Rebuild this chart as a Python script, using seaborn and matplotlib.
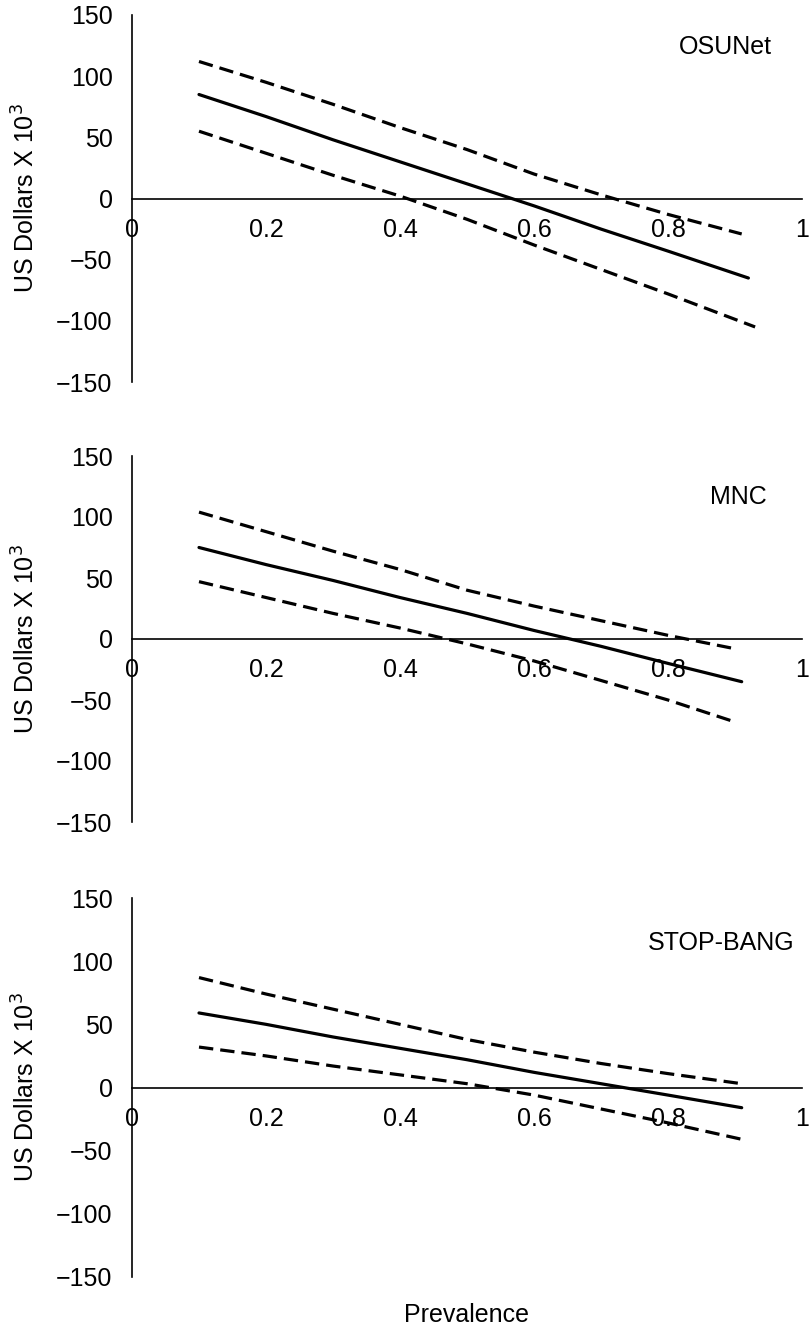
import matplotlib
matplotlib.use("Agg")
import matplotlib.pyplot as plt
import seaborn as sns
import pandas as pd

# ---------------- data ----------------
panel_names = ["OSUNet", "MNC", "STOP-BANG"]

prev_x = [0.1, 0.2, 0.3, 0.4, 0.5, 0.6, 0.7, 0.8]

osu_mid_x = prev_x + [0.92]
osu_mid = [85, 67, 48, 30, 12, -6, -25, -43, -65]
osu_hi_x = prev_x + [0.91]
osu_hi = [112, 95, 77, 58, 40, 20, 3, -13, -29]
osu_lo_x = prev_x + [0.93]
osu_lo = [55, 37, 19, 2, -17, -38, -58, -78, -105]

mnc_mid_x = prev_x + [0.91]
mnc_mid = [75, 61, 48, 34, 21, 7, -6, -20, -35]
mnc_hi_x = prev_x + [0.9]
mnc_hi = [104, 88, 72, 57, 40, 27, 15, 3, -8]
mnc_lo_x = prev_x + [0.9]
mnc_lo = [47, 34, 21, 9, -4, -18, -34, -50, -68]

sb_mid_x = prev_x + [0.91]
sb_mid = [59, 50, 40, 31, 22, 12, 3, -6, -16]
sb_hi_x = prev_x + [0.91]
sb_hi = [87, 74, 62, 50, 38, 28, 19, 11, 3]
sb_lo_x = prev_x + [0.91]
sb_lo = [32, 25, 17, 10, 3, -6, -17, -28, -41]

x_ticks = [0, 0.2, 0.4, 0.6, 0.8, 1]
x_tick_labels = ["0", "0.2", "0.4", "0.6", "0.8", "1"]
y_ticks = [-150, -100, -50, 0, 50, 100, 150]
y_tick_labels = ["\u2212150", "\u2212100", "\u221250", "0", "50", "100", "150"]

panels = [
    ("OSUNet", (osu_mid_x, osu_mid), (osu_hi_x, osu_hi), (osu_lo_x, osu_lo), (0.885, 124)),
    ("MNC", (mnc_mid_x, mnc_mid), (mnc_hi_x, mnc_hi), (mnc_lo_x, mnc_lo), (0.905, 116)),
    ("STOP-BANG", (sb_mid_x, sb_mid), (sb_hi_x, sb_hi), (sb_lo_x, sb_lo), (0.88, 114)),
]

# ---------------- style ----------------
sns.set_theme(style="white")
plt.rcParams["font.family"] = ["Liberation Sans", "DejaVu Sans"]
plt.rcParams["axes.unicode_minus"] = True

W, H = 812, 1329
fig = plt.figure(figsize=(W / 100, H / 100), dpi=100)

# pixel boxes: (left, top, right, bottom) of plotting region (y from 150 to -150)
boxes = [(132, 15, 802, 382), (132, 456, 802, 822), (132, 898, 802, 1277)]

FS = 18
for (name, mid, hi, lo, lab), (l, t, r, b) in zip(panels, boxes):
    ax = fig.add_axes([l / W, 1 - b / H, (r - l) / W, (b - t) / H])
    rows = []
    for kind, (xs, ys) in (("mid", mid), ("hi", hi), ("lo", lo)):
        for xv, yv in zip(xs, ys):
            rows.append({"Prevalence": xv, "USD": yv, "kind": kind})
    df = pd.DataFrame(rows)
    sns.lineplot(data=df[df.kind == "mid"], x="Prevalence", y="USD", ax=ax,
                 color="black", linewidth=2.3, estimator=None, sort=False)
    for k in ("hi", "lo"):
        sns.lineplot(data=df[df.kind == k], x="Prevalence", y="USD", ax=ax,
                     color="black", linewidth=2.3, estimator=None, sort=False,
                     linestyle=(0, (4.5, 2.2)))
    ax.set_xlim(0, 1)
    ax.set_ylim(-150, 150)
    ax.spines["top"].set_visible(False)
    ax.spines["right"].set_visible(False)
    ax.spines["bottom"].set_position(("data", 0))
    for s in ("left", "bottom"):
        ax.spines[s].set_color("black")
        ax.spines[s].set_linewidth(1.2)
    ax.set_xticks(x_ticks)
    ax.set_xticklabels(x_tick_labels)
    ax.set_yticks(y_ticks)
    ax.set_yticklabels(y_tick_labels)
    ax.tick_params(axis="both", direction="out", length=7, width=1.2, colors="black",
                   labelsize=FS, labelcolor="black")
    ax.tick_params(axis="x", pad=7)
    ax.tick_params(axis="y", pad=7)
    ax.set_xlabel("")
    ax.set_ylabel("US Dollars X 10$^3$", fontsize=FS, color="black")
    ax.yaxis.set_label_coords(-0.138, 0.5)
    ax.text(lab[0], lab[1], name, ha="center", va="center", fontsize=FS, color="black")
    ax.patch.set_alpha(0)

fig.text((132 + 802) / 2 / W, 1 - 1315 / H, "Prevalence", ha="center", va="center",
         fontsize=FS, color="black")

fig.savefig("out.png", dpi=100, facecolor="white")
